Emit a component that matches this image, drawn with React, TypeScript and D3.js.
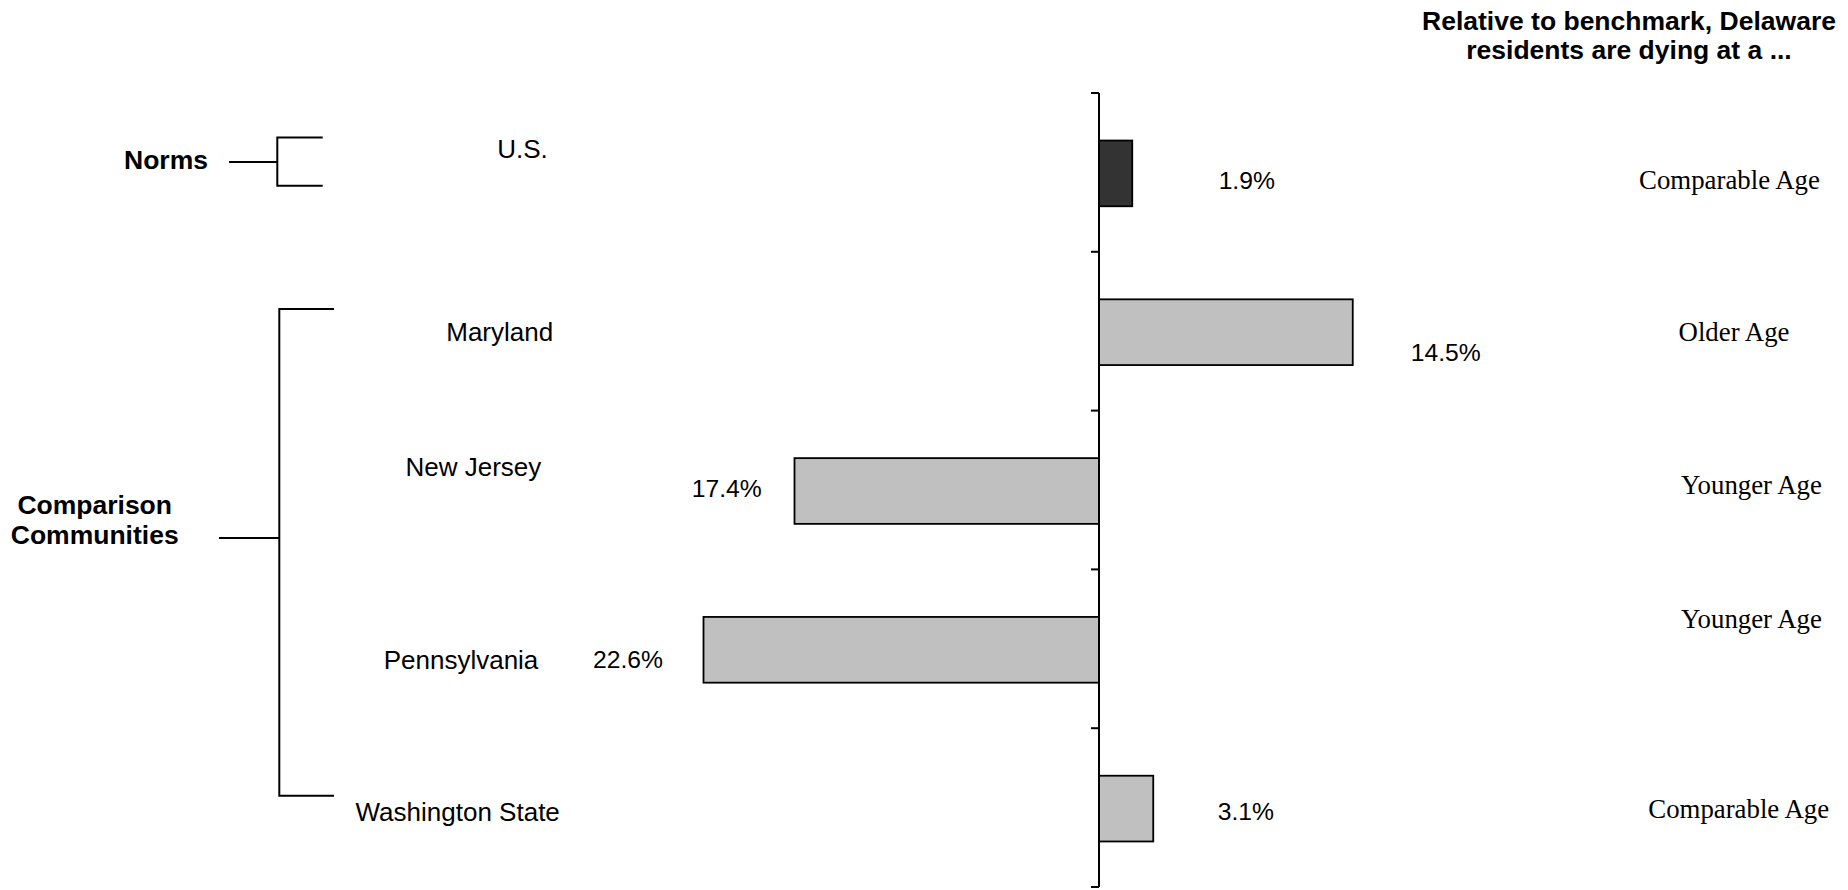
import React, { useEffect } from "react";
import * as d3 from "d3";

// Percent difference in age-adjusted death rate, Delaware vs. each benchmark
const categories = ["U.S.", "Maryland", "New Jersey", "Pennsylvania", "Washington State"];
const differences = [1.9, 14.5, -17.4, -22.6, 3.1];
const assessments = ["Comparable Age", "Older Age", "Younger Age", "Younger Age", "Comparable Age"];
const groupNames = ["Norms", "Comparison", "Communities"];
const titleLines = ["Relative to benchmark, Delaware", "residents are dying at a ..."];

const W = 1848;
const H = 890;
const SANS = "'Liberation Sans', Arial, sans-serif";
const SERIF = "'Liberation Serif', 'Times New Roman', serif";

// Hand-placed label offsets, one entry per row
const catLayout = [
  { cx: 522.5, dy: -14.2 },
  { cx: 499.7, dy: 10 },
  { cx: 473.4, dy: -13.8 },
  { cx: 461, dy: 20.5 },
  { cx: 457.7, dy: 13.8 },
];
const valueLayout = [
  { dx: 86.4, dy: 16.6 },
  { dx: 58, dy: 29.8 },
  { dx: -32.8, dy: 7 },
  { dx: -40.5, dy: 19.2 },
  { dx: 64.5, dy: 12.6 },
];
const assessLayout = [
  { cx: 1729.5, dy: 16.6 },
  { cx: 1734, dy: 9.5 },
  { cx: 1751.4, dy: 4 },
  { cx: 1751.4, dy: -20.5 },
  { cx: 1738.7, dy: 10.7 },
];

export default function App() {
  useEffect(() => {
    document.body.style.margin = "0";
  }, []);

  const x = d3.scaleLinear().domain([-25, 25]).range([1099 - 437.5, 1099 + 437.5]);
  const y = d3
    .scaleBand<string>()
    .domain(categories)
    .range([93, 887])
    .paddingInner(0.586)
    .paddingOuter(0.293);

  const step = y.step();
  const [y0, y1] = y.range();
  const tickYs = d3.range(categories.length + 1).map((i) => y0 + i * step);
  const x0 = x(0);

  return (
    <svg
      width={W}
      height={H}
      viewBox={`0 0 ${W} ${H}`}
      style={{ position: "absolute", left: 0, top: 0, background: "#fff" }}
    >
      {/* title */}
      <g fontFamily={SANS} fontWeight="bold" fontSize={26.5} fill="#000" textAnchor="middle">
        {titleLines.map((t, i) => (
          <text key={t} x={1629} y={30 + i * 29.3}>
            {t}
          </text>
        ))}
      </g>

      {/* bars */}
      {categories.map((c, i) => {
        const v = differences[i];
        const bx = Math.min(x(0), x(v));
        const bw = Math.abs(x(v) - x(0));
        return (
          <rect
            key={c}
            x={bx}
            y={(y(c) as number) + 1}
            width={bw}
            height={y.bandwidth()}
            fill={i === 0 ? "#333333" : "#C0C0C0"}
            stroke="#000"
            strokeWidth={1.8}
          />
        );
      })}

      {/* category axis */}
      <line x1={x0} x2={x0} y1={y0} y2={y1} stroke="#000" strokeWidth={2} />
      {tickYs.map((ty, i) => (
        <line key={i} x1={x0 - 8} x2={x0} y1={ty} y2={ty} stroke="#000" strokeWidth={2} />
      ))}

      {/* category labels */}
      <g fontFamily={SANS} fontSize={26} fill="#000" textAnchor="middle">
        {categories.map((c, i) => (
          <text key={c} x={catLayout[i].cx} y={(y(c) as number) + y.bandwidth() / 2 + catLayout[i].dy}>
            {c}
          </text>
        ))}
      </g>

      {/* value labels */}
      <g fontFamily={SANS} fontSize={24.7} fill="#000">
        {categories.map((c, i) => {
          const v = differences[i];
          const cy = (y(c) as number) + y.bandwidth() / 2;
          return (
            <text
              key={c}
              x={x(v) + valueLayout[i].dx}
              y={cy + valueLayout[i].dy}
              textAnchor={v < 0 ? "end" : "start"}
            >
              {`${Math.abs(v).toFixed(1)}%`}
            </text>
          );
        })}
      </g>

      {/* assessment column */}
      <g fontFamily={SERIF} fontSize={26.8} fill="#000" textAnchor="middle">
        {categories.map((c, i) => (
          <text
            key={c}
            x={assessLayout[i].cx}
            y={(y(c) as number) + y.bandwidth() / 2 + assessLayout[i].dy}
          >
            {assessments[i]}
          </text>
        ))}
      </g>

      {/* group brackets */}
      <g stroke="#000" strokeWidth={2} fill="none">
        <path d="M322.7,137.5 H277.3 V185.7 H322.7" />
        <line x1={229} x2={277.3} y1={162} y2={162} />
        <path d="M334,309 H279.3 V795.7 H334" />
        <line x1={219} x2={279.3} y1={538} y2={538} />
      </g>
      <g fontFamily={SANS} fontWeight="bold" fontSize={26.5} fill="#000">
        <text x={124} y={169.3}>
          {groupNames[0]}
        </text>
        <text x={94.7} y={514} textAnchor="middle">
          {groupNames[1]}
        </text>
        <text x={94.7} y={544} textAnchor="middle">
          {groupNames[2]}
        </text>
      </g>
    </svg>
  );
}
